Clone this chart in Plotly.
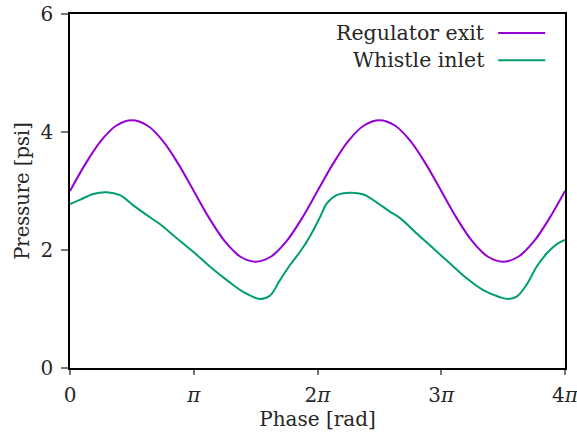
import numpy as np
import plotly.graph_objects as go

PI = np.pi

# Regulator exit: values read at steps of pi/8 from 0 to 4*pi
reg_x = [k * PI / 8 for k in range(33)]
reg_y = [3.00, 3.46, 3.85, 4.11, 4.20, 4.11, 3.85, 3.46,
         3.00, 2.54, 2.15, 1.89, 1.80, 1.89, 2.15, 2.54,
         3.00, 3.46, 3.85, 4.11, 4.20, 4.11, 3.85, 3.46,
         3.00, 2.54, 2.15, 1.89, 1.80, 1.89, 2.15, 2.54, 3.00]

# Whistle inlet: values
whi_x = [0.00, 0.25, 0.59, 0.93, 1.27, 1.60, 1.95, 2.28, 2.71, 3.13, 3.55,
         3.98, 4.40, 4.82, 5.08, 5.33, 5.59, 5.84, 6.09, 6.35, 6.52, 6.77,
         7.11, 7.45, 7.80, 8.10, 8.38, 8.80, 9.22, 9.65, 10.07, 10.49, 10.92,
         11.12, 11.34, 11.59, 11.85, 12.10, 12.36, 12.566]
whi_y = [2.78, 2.85, 2.95, 2.98, 2.93, 2.76, 2.59, 2.44, 2.20, 1.97, 1.72,
         1.49, 1.29, 1.17, 1.23, 1.49, 1.75, 1.97, 2.23, 2.56, 2.79, 2.93,
         2.97, 2.94, 2.80, 2.66, 2.54, 2.28, 2.03, 1.77, 1.52, 1.32, 1.20,
         1.17, 1.21, 1.41, 1.72, 1.94, 2.10, 2.17]

tick_vals = [0, PI, 2 * PI, 3 * PI, 4 * PI]
tick_text = ["0", "<i>π</i>", "2<i>π</i>", "3<i>π</i>", "4<i>π</i>"]
y_ticks = [0, 2, 4, 6]

names = ["Regulator exit", "Whistle inlet"]
colors = ["#9400D3", "#009E73"]

FONT = "'DejaVu Serif', 'Liberation Serif', 'Noto Serif', serif"
TXT = "#262626"

fig = go.Figure()
fig.add_trace(go.Scatter(x=reg_x, y=reg_y, mode="lines", name=names[0],
                         line=dict(color=colors[0], width=2, shape="spline")))
fig.add_trace(go.Scatter(x=whi_x, y=whi_y, mode="lines", name=names[1],
                         line=dict(color=colors[1], width=2, shape="spline",
                                   smoothing=1.0)))

# legend drawn in gnuplot style: text right-aligned, sample line to the right
leg_y = [0.946, 0.869]
for i in range(2):
    fig.add_annotation(x=0.843, y=leg_y[i], xref="paper", yref="paper",
                       text=names[i], showarrow=False, xanchor="right",
                       yanchor="middle", font=dict(family=FONT, size=20.5,
                                                   color=TXT))
    fig.add_shape(type="line", xref="paper", yref="paper",
                  x0=0.865, x1=0.96, y0=leg_y[i], y1=leg_y[i],
                  line=dict(color=colors[i], width=2))

fig.update_layout(
    width=577, height=434,
    margin=dict(l=70, r=12, t=14, b=66, autoexpand=False),
    paper_bgcolor="white", plot_bgcolor="white",
    showlegend=False,
    font=dict(family=FONT, size=20, color=TXT),
)
fig.update_xaxes(range=[0, 12.5664], tickvals=tick_vals, ticktext=tick_text,
                 automargin=False, ticklabeloverflow="allow",
                 showgrid=False, zeroline=False, showline=True,
                 linecolor="black", linewidth=1.5, mirror=True,
                 ticks="outside", ticklen=5, tickwidth=1.5, tickcolor="#777",
                 ticklabelstandoff=3,
                 title=dict(text="Phase [rad]", standoff=2,
                            font=dict(family=FONT, size=20, color=TXT)))
fig.update_yaxes(range=[0, 6], tickvals=y_ticks, automargin=False,
                 showgrid=False, zeroline=False, showline=True,
                 linecolor="black", linewidth=1.5, mirror=True,
                 ticks="outside", ticklen=7, tickwidth=1.5, tickcolor="#777",
                 ticklabelstandoff=4,
                 title=dict(text="Pressure [psi]", standoff=6,
                            font=dict(family=FONT, size=19.5, color=TXT)))

fig.write_html("out.html")
